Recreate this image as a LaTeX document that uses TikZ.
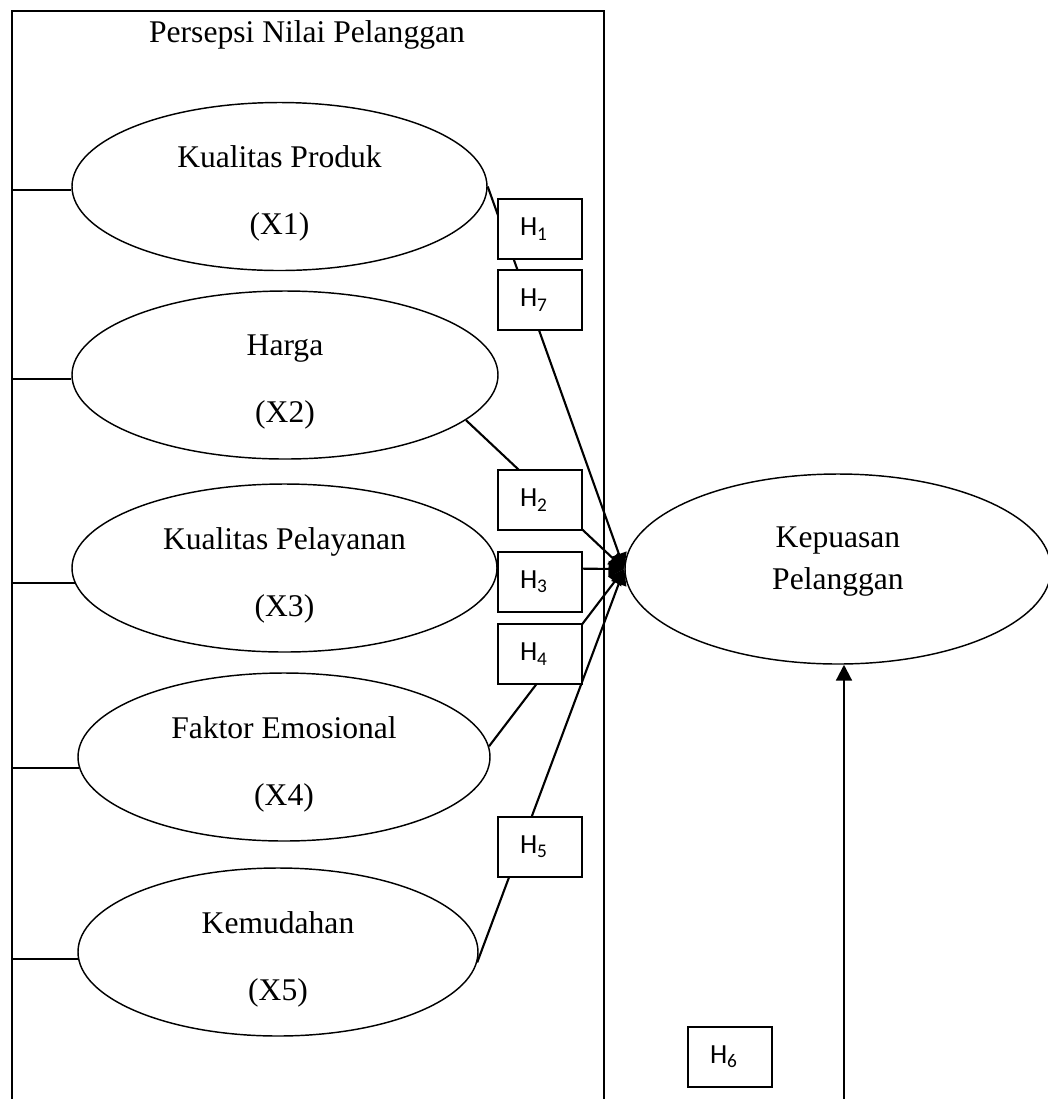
\documentclass[tikz,border=0pt]{standalone}
\usepackage{fontspec}
\setmainfont{Liberation Serif}
\newfontfamily\hfont{Carlito}
\usetikzlibrary{arrows.meta,shapes.geometric}

\def\ux{0.38pt}

\begin{document}
\begin{tikzpicture}[x=\ux, y=-\ux,
    font=\fontsize{12}{14.4}\selectfont,
    >={Triangle[length=6pt,width=6pt]},
    oval/.style={ellipse, draw, line width=0.55pt, inner sep=0pt, minimum height=168*\ux},
    ovaltext/.style={align=center, yshift=-2.7pt},
    link/.style={line width=0.8pt},
    hyp/.style={draw, fill=white, line width=0.8pt, inner xsep=22*\ux, inner ysep=0pt,
      text width=40*\ux, align=left, minimum height=60*\ux,
      font=\hfont\fontsize{10.5}{12.5}\selectfont}]
  \clip (0,0) rectangle (1048,1099);
  % variabel X dalam kotak persepsi
  \node[draw, line width=0.8pt, inner sep=0pt, minimum width=592*\ux, minimum height=1110*\ux] (frame) at (308,566) {};
  \node[anchor=base] (title) at (307,42) {Persepsi Nilai Pelanggan};
  \node[oval, minimum width=415*\ux] (x1) at (279.5,186.5) {};
  \node[oval, minimum width=426*\ux] (x2) at (285,375) {};
  \node[oval, minimum width=425*\ux] (x3) at (284.5,568) {};
  \node[oval, minimum width=412*\ux] (x4) at (284,757) {};
  \node[oval, minimum width=400*\ux] (x5) at (278,952) {};
  \node[ovaltext] (x1txt) at (x1) {Kualitas Produk\\[11.1pt](X1)};
  \node[ovaltext] (x2txt) at (x2) {Harga\\[11.1pt](X2)};
  \node[ovaltext] (x3txt) at (x3) {Kualitas Pelayanan\\[11.1pt](X3)};
  \node[ovaltext] (x4txt) at (x4) {Faktor Emosional\\[11.1pt](X4)};
  \node[ovaltext] (x5txt) at (x5) {Kemudahan\\[11.1pt](X5)};
  % variabel Y
  \node[oval, minimum width=426*\ux, minimum height=190*\ux] (kp) at (838,569) {};
  \node[align=center, yshift=2.7pt] (kptext) at (kp) {Kepuasan\\[1.6pt]Pelanggan};
  \coordinate (h6foot) at (844,1115);

  \draw[link] (x1.181) -- (x1.181 -| frame.west);
  \draw[link] (x2.181) -- (x2.181 -| frame.west);
  \draw[link] (x3.184) -- (x3.184 -| frame.west);
  \draw[link] (x4.183) -- (x4.183 -| frame.west);
  \draw[link] (x5.182) -- (x5.182 -| frame.west);
  \draw[link,->] (x1.east) -- (kp.west);
  \draw[link,->] (x2.-14) -- (kp.west);
  \draw[link,->] (x3.east) -- (kp.west);
  \draw[link,->] (x4.3) -- (kp.west);
  \draw[link,->] (x5.-3) -- (kp.west);
  \draw[link,->] (h6foot) -- (h6foot |- kp.south);

  % hipotesis
  \node[hyp] (h1) at (540,229) {H\textsubscript{1}};
  \node[hyp] (h7) at (540,300) {H\textsubscript{7}};
  \node[hyp] (h2) at (540,500) {H\textsubscript{2}};
  \node[hyp] (h3) at (540,582) {H\textsubscript{3}};
  \node[hyp] (h4) at (540,654) {H\textsubscript{4}};
  \node[hyp] (h5) at (540,847) {H\textsubscript{5}};
  \node[hyp] (h6) at (730,1057) {H\textsubscript{6}};
\end{tikzpicture}
\end{document}
